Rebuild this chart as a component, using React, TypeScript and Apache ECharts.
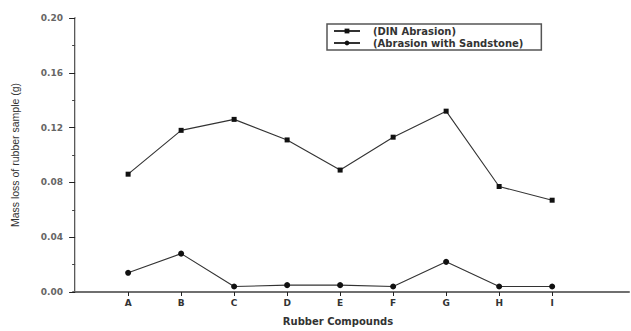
import React, { useEffect, useRef } from "react";
import * as echarts from "echarts";

const categories = ["A", "B", "C", "D", "E", "F", "G", "H", "I"];
const dinAbrasion = [0.086, 0.118, 0.126, 0.111, 0.089, 0.113, 0.132, 0.077, 0.067];
const sandstoneAbrasion = [0.014, 0.028, 0.004, 0.005, 0.005, 0.004, 0.022, 0.004, 0.004];
const seriesNames = ["(DIN Abrasion)", "(Abrasion with Sandstone)"];
const positions = categories.map((_, i) => i + 1);

export default function App() {
  const ref = useRef<HTMLDivElement>(null);
  useEffect(() => {
    if (!ref.current) return;
    const chart = echarts.init(ref.current, null, { renderer: "svg" });
    const toPairs = (vals: number[]) => vals.map((v, i) => [positions[i], v]);
    chart.setOption({
      animation: false,
      backgroundColor: "#fff",
      grid: { left: 73, top: 18, right: 2, bottom: 36 },
      legend: {
        orient: "vertical",
        left: 327,
        top: 24,
        padding: [2, 18, 2, 6],
        itemGap: 2,
        itemWidth: 26,
        itemHeight: 6,
        borderColor: "#555",
        borderWidth: 1.5,
        data: seriesNames,
        textStyle: { fontFamily: "DejaVu Sans", fontSize: 10, fontWeight: "bold", color: "#333", padding: [0, 0, 0, 8] },
      },
      xAxis: [
        {
          type: "value",
          min: -0.04,
          max: 10.45,
          name: "Rubber Compounds",
          nameLocation: "middle",
          nameGap: 24,
          nameTextStyle: {
            fontFamily: "DejaVu Sans",
            fontSize: 10,
            fontWeight: "bold",
            color: "#333",
            padding: [0, 26, 0, 0],
          },
          splitLine: { show: false },
          axisLine: { lineStyle: { color: "#222", width: 1.5 } },
          axisTick: { customValues: positions, length: 4, inside: false, lineStyle: { color: "#222" } },
          axisLabel: {
            customValues: positions,
            formatter: (v: number) => categories[Math.round(v) - 1] ?? "",
            fontFamily: "DejaVu Sans",
            fontSize: 9,
            fontWeight: "bold",
            color: "#333",
            margin: 6,
          },
        },
        {
          type: "value",
          position: "top",
          min: -0.04,
          max: 10.45,
          axisLine: { show: true, lineStyle: { color: "#777", width: 1.5 } },
          axisTick: { show: false },
          axisLabel: { show: false },
          splitLine: { show: false },
        },
      ],
      yAxis: [
        {
          type: "value",
          min: 0,
          max: 0.2,
          interval: 0.04,
          name: "Mass loss of rubber sample (g)",
          nameLocation: "middle",
          nameGap: 53,
          nameTextStyle: { fontFamily: "Liberation Sans", fontSize: 10.5, color: "#333" },
          splitLine: { show: false },
          axisLine: { show: true, lineStyle: { color: "#222", width: 1.5 } },
          axisTick: { show: true, length: 6, lineStyle: { color: "#222" } },
          minorTick: { show: true, splitNumber: 2, length: 3, lineStyle: { color: "#444" } },
          axisLabel: {
            formatter: (v: number) => v.toFixed(2),
            fontFamily: "DejaVu Sans",
            fontSize: 9,
            fontWeight: "bold",
            color: "#666",
            margin: 10,
          },
        },
        {
          type: "value",
          position: "right",
          min: 0,
          max: 0.2,
          axisLine: { show: true, lineStyle: { color: "#ccc", width: 1 } },
          axisTick: { show: false },
          axisLabel: { show: false },
          splitLine: { show: false },
        },
      ],
      series: [
        {
          name: seriesNames[0],
          type: "line",
          data: toPairs(dinAbrasion),
          symbol: "rect",
          symbolSize: 5,
          itemStyle: { color: "#111" },
          lineStyle: { color: "#333", width: 1.1 },
        },
        {
          name: seriesNames[1],
          type: "line",
          data: toPairs(sandstoneAbrasion),
          symbol: "circle",
          symbolSize: 6,
          itemStyle: { color: "#111" },
          lineStyle: { color: "#333", width: 1.1 },
        },
      ],
    });
    return () => chart.dispose();
  }, []);
  return <div ref={ref} style={{ width: 631, height: 331, position: "absolute", left: 0, top: 0 }} />;
}
